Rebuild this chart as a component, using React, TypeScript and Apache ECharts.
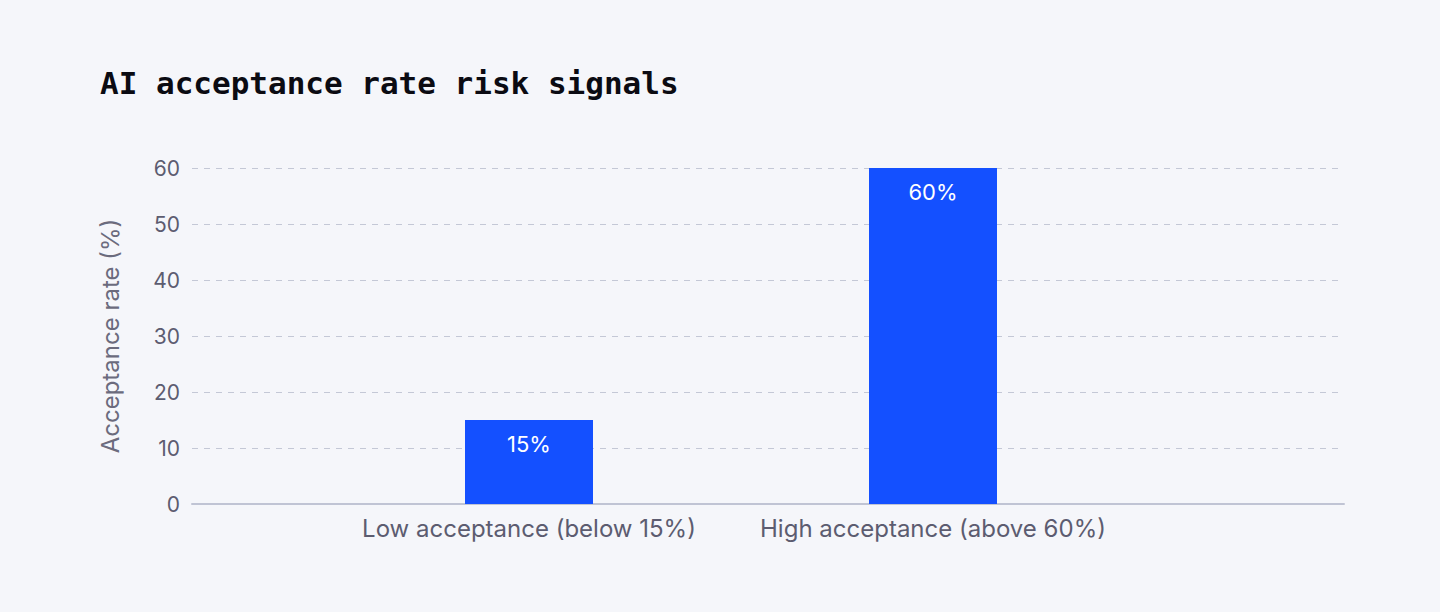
import React, { useEffect, useRef } from 'react';
import * as echarts from 'echarts';

const categories = ['Low acceptance (below 15%)', 'High acceptance (above 60%)'];
const acceptance = [15, 60];
const yTicks = [0, 10, 20, 30, 40, 50, 60];

const textFont = 'Inter, "Noto Sans", sans-serif';

const App: React.FC = () => {
  const chartRef: any = useRef(null);

  useEffect(() => {
    document.body.style.margin = '0';
    document.body.style.background = '#f5f6fa';
    const chart = echarts.init(chartRef.current, null, { renderer: 'svg' });
    const option = {
      animation: false,
      backgroundColor: '#f5f6fa',
      title: {
        text: 'AI acceptance rate risk signals',
        left: 95,
        top: 62,
        textStyle: {
          fontFamily: '"DejaVu Sans Mono", monospace',
          fontWeight: 'bold',
          fontSize: 31,
          color: '#0b0b12'
        }
      },
      grid: [
        // full-width grid: y axis, split lines and base line
        { left: 192, right: 96, top: 168, bottom: 108 },
        // narrower grid for the bars and category labels
        { left: 327, right: 305, top: 168, bottom: 108 }
      ],
      xAxis: [
        {
          type: 'category',
          gridIndex: 0,
          data: [''],
          axisLine: { show: true, lineStyle: { color: '#c0c4d4', width: 2 } },
          axisTick: { show: false },
          axisLabel: { show: false }
        },
        {
          type: 'category',
          gridIndex: 1,
          data: categories,
          axisLine: { show: false },
          axisTick: { show: false },
          axisLabel: {
            interval: 0,
            hideOverlap: false,
            margin: 12,
            fontFamily: textFont,
            fontSize: 24,
            color: '#5c5c70'
          }
        }
      ],
      yAxis: [
        {
          type: 'value',
          gridIndex: 0,
          min: yTicks[0],
          max: yTicks[yTicks.length - 1],
          interval: 10,
          name: 'Acceptance rate (%)',
          nameLocation: 'middle',
          nameGap: 70,
          nameTextStyle: {
            fontFamily: textFont,
            fontSize: 24,
            color: '#6b6b7d'
          },
          axisLine: { show: false },
          axisTick: { show: false },
          axisLabel: {
            margin: 12,
            fontFamily: textFont,
            fontSize: 21,
            color: '#5c5c70'
          },
          splitLine: {
            show: true,
            lineStyle: { color: '#c4c8d6', type: [6, 6], width: 1 }
          }
        },
        {
          type: 'value',
          gridIndex: 1,
          min: yTicks[0],
          max: yTicks[yTicks.length - 1],
          interval: 10,
          show: false,
          splitLine: { show: false }
        }
      ],
      series: [
        {
          type: 'bar',
          xAxisIndex: 1,
          yAxisIndex: 1,
          data: acceptance,
          barWidth: 128,
          itemStyle: { color: '#1450ff' },
          label: {
            show: true,
            position: 'insideTop',
            distance: 13,
            formatter: '{c}%',
            fontFamily: textFont,
            fontSize: 22,
            color: '#ffffff'
          }
        }
      ]
    };
    chart.setOption(option);
    return () => {
      chart.dispose();
    };
  }, []);

  return <div ref={chartRef} style={{ width: 1440, height: 612 }}></div>;
};

export default App;
